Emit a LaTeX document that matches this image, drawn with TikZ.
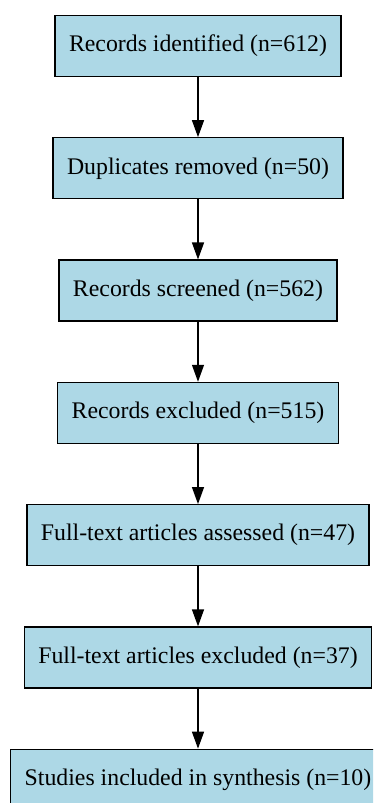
\documentclass[tikz,border=0pt]{standalone}
\usepackage{fontspec}
\setmainfont{Liberation Serif}
\usetikzlibrary{arrows.meta}
\definecolor{boxblue}{RGB}{173,216,230}
\begin{document}
\begin{tikzpicture}[x=1pt,y=1pt,
  flowbox/.style={draw=black, fill=boxblue, line width=1.3pt, minimum height=61pt,
    inner xsep=14pt, inner ysep=0pt, font=\fontsize{23.8}{28}\selectfont},
  flowarrow/.style={draw=black, line width=1.3pt, -{Triangle[length=17pt,width=12pt]}}]
\useasboundingbox (0,0) rectangle (373,-803);
\begin{scope}
\clip (0,0) rectangle (373,-803);
\node[flowbox] (a) at (198,-46) {Records identified (n=612)};
\node[flowbox] (b) at (198,-168.3) {Duplicates removed (n=50)};
\node[flowbox] (c) at (198,-290.6) {Records screened (n=562)};
\node[flowbox] (d) at (198,-412.9) {Records excluded (n=515)};
\node[flowbox] (e) at (198,-535.2) {Full-text articles assessed (n=47)};
\node[flowbox] (f) at (198,-657.5) {Full-text articles excluded (n=37)};
\node[flowbox] (g) at (198,-779.8) {Studies included in synthesis (n=10)};
\draw[flowarrow] (a) -- (b);
\draw[flowarrow] (b) -- (c);
\draw[flowarrow] (c) -- (d);
\draw[flowarrow] (d) -- (e);
\draw[flowarrow] (e) -- (f);
\draw[flowarrow] (f) -- (g);
\end{scope}
\end{tikzpicture}
\end{document}
